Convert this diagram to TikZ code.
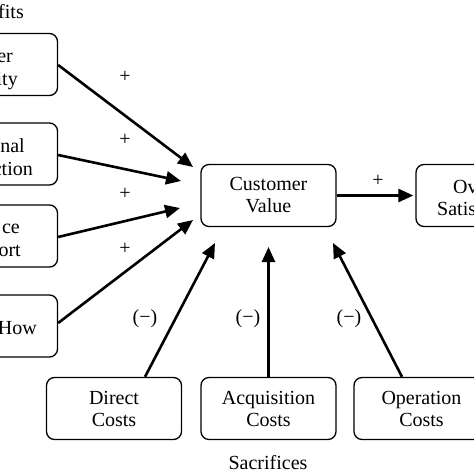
\documentclass[tikz,border=0pt]{standalone}
\usepackage{fontspec}
\setmainfont{Liberation Serif}
\usetikzlibrary{arrows.meta}
\begin{document}
\begin{tikzpicture}[x=1pt,y=-1pt,
  box/.style={draw, line width=1.3pt, rounded corners=8pt, minimum width=135pt,
    minimum height=62pt, inner sep=0pt, align=center, font=\fontsize{20}{22}\selectfont},
  lbl/.style={font=\fontsize{20}{22}\selectfont, inner sep=0pt},
  fragE/.style={lbl, anchor=base east},
  fragW/.style={lbl, anchor=base west},
  arr/.style={line width=2.6pt, -{Triangle[length=15pt,width=13pt]}},
]
\useasboundingbox (0,0) rectangle (474,474);
\clip (0,0) rectangle (474,474);

% benefit boxes (cut off at the left edge)
\node[box] (b1) at (-10,64.5) {};
\node[box] (b2) at (-10,154) {};
\node[box] (b3) at (-10,236) {};
\node[box] (b4) at (-10,326) {};
\node[fragE] (t0) at (24,18) {fits};
\node[fragE] (t1a) at (13,62) {er};
\node[fragE] (t1b) at (18,85) {ity};
\node[fragE] (t2a) at (25,152) {nal};
\node[fragE] (t2b) at (33,175) {ction};
\node[fragE] (t3a) at (20,233) {ce};
\node[fragE] (t3b) at (21,256) {ort};
\node[fragE] (t4) at (37,334) {How};

% central boxes
\node[box] (cv) at (268.5,195.5) {Customer\\Value};
\node[box] (os) at (483.5,195.5) {};
\node[fragW] (osa) at (453,193) {Ov};
\node[fragW] (osb) at (437,215) {Satis};

% sacrifice boxes
\node[box] (dc) at (114,408.5) {Direct\\Costs};
\node[box] (ac) at (268.5,408.5) {Acquisition\\Costs};
\node[box] (oc) at (421.5,408.5) {Operation\\Costs};
\node[lbl] (sac) at (268,463) {Sacrifices};

% arrow tips
\coordinate (p1) at (193,167);
\coordinate (p2) at (181,181);
\coordinate (p3) at (180,208);
\coordinate (p4) at (193,220);
\coordinate (q1) at (215,243);
\coordinate (q2) at (268.5,247);
\coordinate (q3) at (333,243);

\draw[arr] (b1.east |- 0,65) -- (p1);
\draw[arr] (b2.east |- 0,155) -- (p2);
\draw[arr] (b3.east |- 0,237) -- (p3);
\draw[arr] (b4.east |- 0,323) -- (p4);
\draw[arr] (dc.north -| 145,0) -- (q1);
\draw[arr] (ac.north) -- (q2);
\draw[arr] (oc.north -| 402,0) -- (q3);
\draw[arr, shorten >=2pt] (cv.east) -- (os.west);

% signs
\node[lbl] (s1) at (125,77) {+};
\node[lbl] (s2) at (125,140) {+};
\node[lbl] (s3) at (125,194) {+};
\node[lbl] (s4) at (125,249) {+};
\node[lbl] (s5) at (378,181) {+};
\node[lbl] (m1) at (145,319) {(\textminus)};
\node[lbl] (m2) at (248,319) {(\textminus)};
\node[lbl] (m3) at (349,319) {(\textminus)};
\end{tikzpicture}
\end{document}
